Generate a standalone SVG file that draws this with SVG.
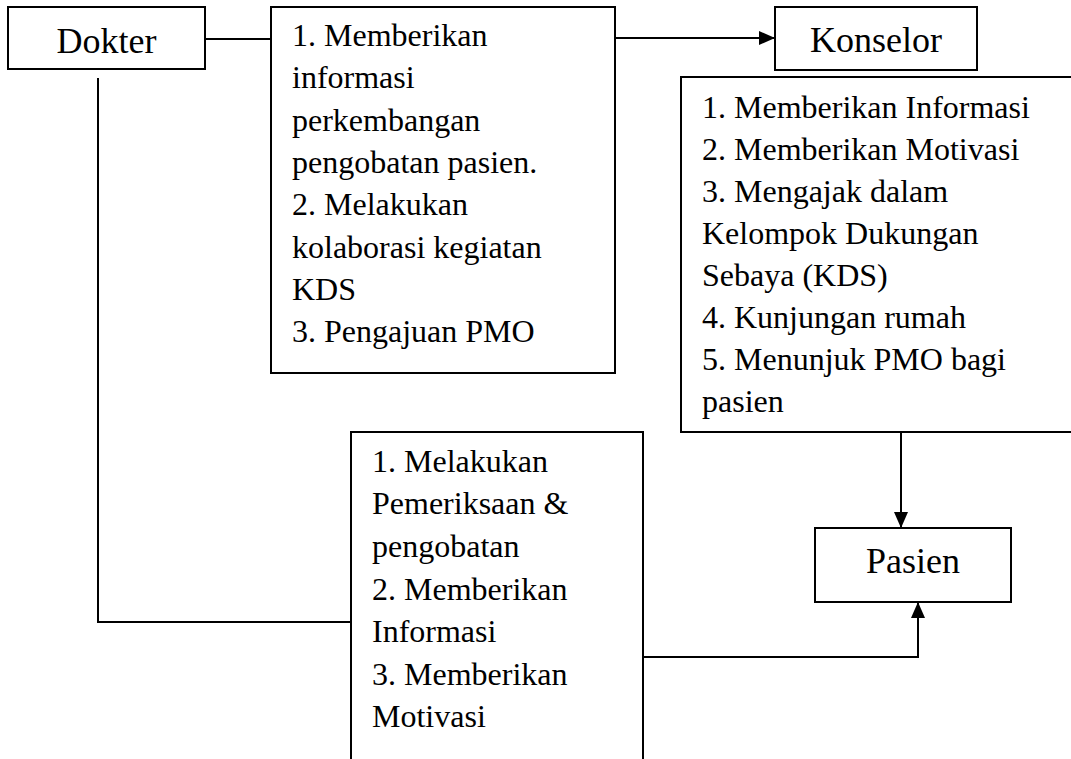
<svg xmlns="http://www.w3.org/2000/svg" width="1071" height="759" viewBox="0 0 1071 759">
<style>
.box{fill:#fff;stroke:#000;stroke-width:2}
.lbl{font-family:"Liberation Serif","Times New Roman",serif;font-size:36px;fill:#000;text-anchor:middle}
.txt{font-family:"Liberation Serif","Times New Roman",serif;font-size:32px;fill:#000}
.ln{fill:none;stroke:#000;stroke-width:2}
</style>
<defs>
<marker id="arr" markerWidth="16" markerHeight="14" refX="16" refY="7" orient="auto" markerUnits="userSpaceOnUse">
<path d="M0,0 L16,7 L0,14 Z" fill="#000"/>
</marker>
</defs>
<rect width="1071" height="759" fill="#fff"/>
<g id="connectors">
<line class="ln" x1="205" y1="39" x2="271" y2="39"/>
<line class="ln" x1="615" y1="38" x2="775" y2="38" marker-end="url(#arr)"/>
<polyline class="ln" points="98,78 98,622 351,622"/>
<line class="ln" x1="901" y1="432" x2="901" y2="528" marker-end="url(#arr)"/>
<polyline class="ln" points="643,657 918,657 918,602" marker-end="url(#arr)"/>
</g>
<g id="dokter">
<rect class="box" x="8" y="7" width="197" height="62"/>
<text class="lbl" x="106.5" y="53">Dokter</text>
</g>
<g id="dokter-konselor">
<rect class="box" x="271" y="7" width="344" height="366"/>
<text class="txt" x="292" y="46">1. Memberikan</text>
<text class="txt" x="292" y="88">informasi</text>
<text class="txt" x="292" y="131">perkembangan</text>
<text class="txt" x="292" y="173">pengobatan pasien.</text>
<text class="txt" x="292" y="215">2. Melakukan</text>
<text class="txt" x="292" y="258">kolaborasi kegiatan</text>
<text class="txt" x="292" y="300">KDS</text>
<text class="txt" x="292" y="342">3. Pengajuan PMO</text>
</g>
<g id="konselor">
<rect class="box" x="775" y="7" width="202" height="63"/>
<text class="lbl" x="876" y="52">Konselor</text>
</g>
<g id="konselor-tasks">
<rect class="box" x="681" y="77" width="400" height="355"/>
<text class="txt" x="702" y="118">1. Memberikan Informasi</text>
<text class="txt" x="702" y="160">2. Memberikan Motivasi</text>
<text class="txt" x="702" y="202">3. Mengajak dalam</text>
<text class="txt" x="702" y="244">Kelompok Dukungan</text>
<text class="txt" x="702" y="286">Sebaya (KDS)</text>
<text class="txt" x="702" y="328">4. Kunjungan rumah</text>
<text class="txt" x="702" y="370">5. Menunjuk PMO bagi</text>
<text class="txt" x="702" y="412">pasien</text>
</g>
<g id="dokter-pasien">
<rect class="box" x="351" y="432" width="292" height="340"/>
<text class="txt" x="372" y="472">1. Melakukan</text>
<text class="txt" x="372" y="514">Pemeriksaan &amp;</text>
<text class="txt" x="372" y="557">pengobatan</text>
<text class="txt" x="372" y="600">2. Memberikan</text>
<text class="txt" x="372" y="642">Informasi</text>
<text class="txt" x="372" y="685">3. Memberikan</text>
<text class="txt" x="372" y="727">Motivasi</text>
</g>
<g id="pasien">
<rect class="box" x="815" y="528" width="196" height="74"/>
<text class="lbl" x="913" y="573">Pasien</text>
</g>
</svg>
